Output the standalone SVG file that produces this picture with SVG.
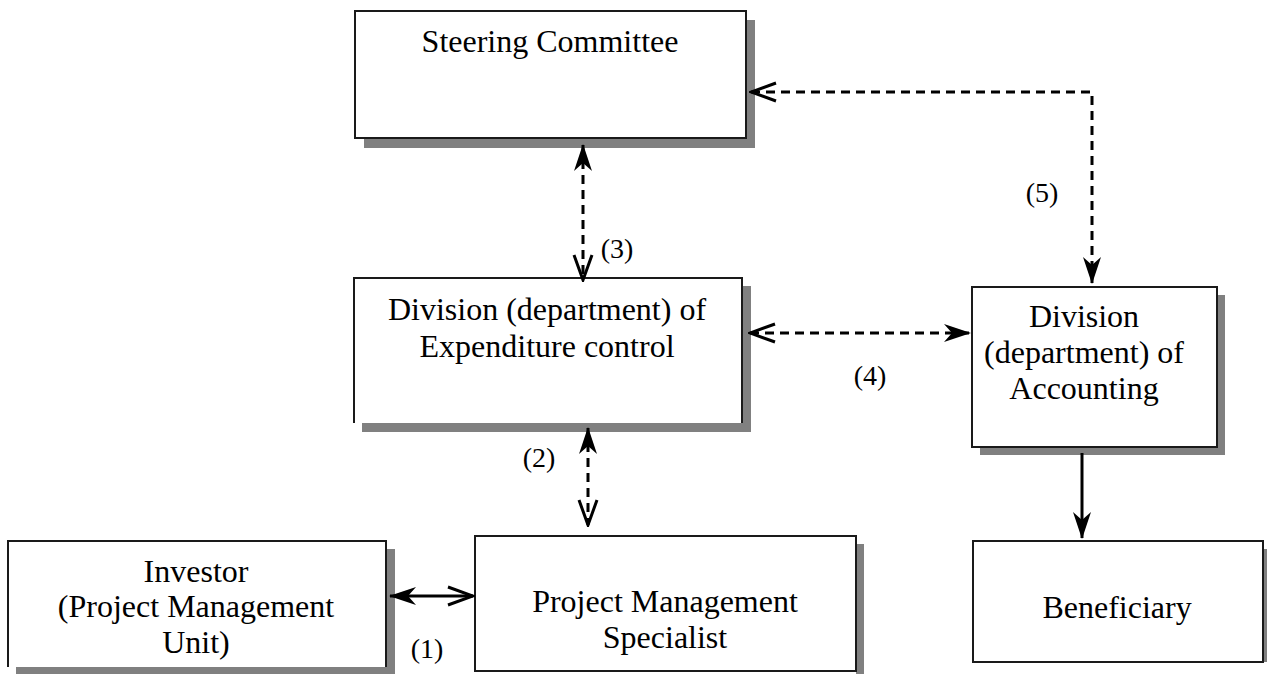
<svg xmlns="http://www.w3.org/2000/svg" width="1267" height="674" viewBox="0 0 1267 674">
<style>
.box{fill:#fff;stroke:#1a1a1a;stroke-width:2}
.edge{fill:none;stroke:#1a1a1a;stroke-width:2}
.sh{fill:#808080}
.t{font-family:"Liberation Serif","Times New Roman",serif;font-size:32px;fill:#000;text-anchor:middle}
.lbl{font-family:"Liberation Serif","Times New Roman",serif;font-size:28px;fill:#000;text-anchor:middle}
.c{fill:none;stroke:#000;stroke-width:3}
.d{stroke-dasharray:9 6}
</style>
<defs>
<marker id="af" viewBox="-30 -12 32 24" refX="0" refY="0" markerWidth="32" markerHeight="24" markerUnits="userSpaceOnUse" orient="auto-start-reverse">
<path d="M1,0 L-26,-9 L-18,0 L-26,9 Z" fill="#000"/>
</marker>
<marker id="ao" viewBox="-30 -12 32 24" refX="0" refY="0" markerWidth="32" markerHeight="24" markerUnits="userSpaceOnUse" orient="auto-start-reverse">
<path d="M-25,-9 L0,0 L-25,9" fill="none" stroke="#000" stroke-width="3" stroke-linejoin="miter"/>
</marker>
</defs>

<g id="steering">
<rect class="sh" x="364" y="20" width="391" height="128"/>
<rect class="box" x="355" y="11" width="391" height="127"/>
<text class="t" x="550" y="52">Steering Committee</text>
</g>

<g id="expenditure">
<rect class="sh" x="362" y="286" width="389" height="146"/>
<rect x="354" y="278" width="388" height="145" fill="#fff"/>
<path class="edge" d="M354,423 V278 H742 V423"/>
<text class="t" x="547" y="320">Division (department) of</text>
<text class="t" x="547" y="357">Expenditure control</text>
</g>

<g id="accounting">
<rect class="sh" x="980" y="295" width="245" height="160"/>
<rect class="box" x="972" y="287" width="245" height="160"/>
<text class="t" x="1084" y="327">Division</text>
<text class="t" x="1084" y="363">(department) of</text>
<text class="t" x="1084" y="399">Accounting</text>
</g>

<g id="investor">
<rect class="sh" x="16" y="549" width="379" height="126"/>
<rect x="8" y="541" width="378" height="126" fill="#fff"/>
<path class="edge" d="M8,667 V541 H386 V667"/>
<text class="t" x="196" y="582">Investor</text>
<text class="t" x="196" y="617">(Project Management</text>
<text class="t" x="196" y="653">Unit)</text>
</g>

<g id="specialist">
<rect class="sh" x="856" y="544" width="8" height="130"/>
<rect class="box" x="475" y="536" width="381" height="135"/>
<text class="t" x="665" y="612">Project Management</text>
<text class="t" x="665" y="648">Specialist</text>
</g>

<g id="beneficiary">
<rect class="sh" x="1263" y="549" width="8" height="113"/>
<rect class="box" x="973" y="541" width="290" height="121"/>
<text class="t" x="1117" y="618">Beneficiary</text>
</g>

<g id="connectors">
<line class="c" x1="390" y1="596" x2="473" y2="596" marker-start="url(#af)" marker-end="url(#ao)"/>
<line class="c d" x1="588" y1="428" x2="588" y2="525" marker-start="url(#af)" marker-end="url(#ao)"/>
<line class="c d" x1="583" y1="145" x2="583" y2="280" marker-start="url(#af)" marker-end="url(#ao)"/>
<line class="c d" x1="750" y1="333" x2="970" y2="333" marker-start="url(#ao)" marker-end="url(#af)"/>
<polyline class="c d" points="751,92 1092,92 1092,283" marker-start="url(#ao)" marker-end="url(#af)"/>
<line class="c" x1="1082" y1="453" x2="1082" y2="538" marker-end="url(#af)"/>
<text class="lbl" x="427" y="658">(1)</text>
<text class="lbl" x="539" y="467">(2)</text>
<text class="lbl" x="617" y="258">(3)</text>
<text class="lbl" x="870" y="385">(4)</text>
<text class="lbl" x="1042" y="202">(5)</text>
</g>
</svg>
